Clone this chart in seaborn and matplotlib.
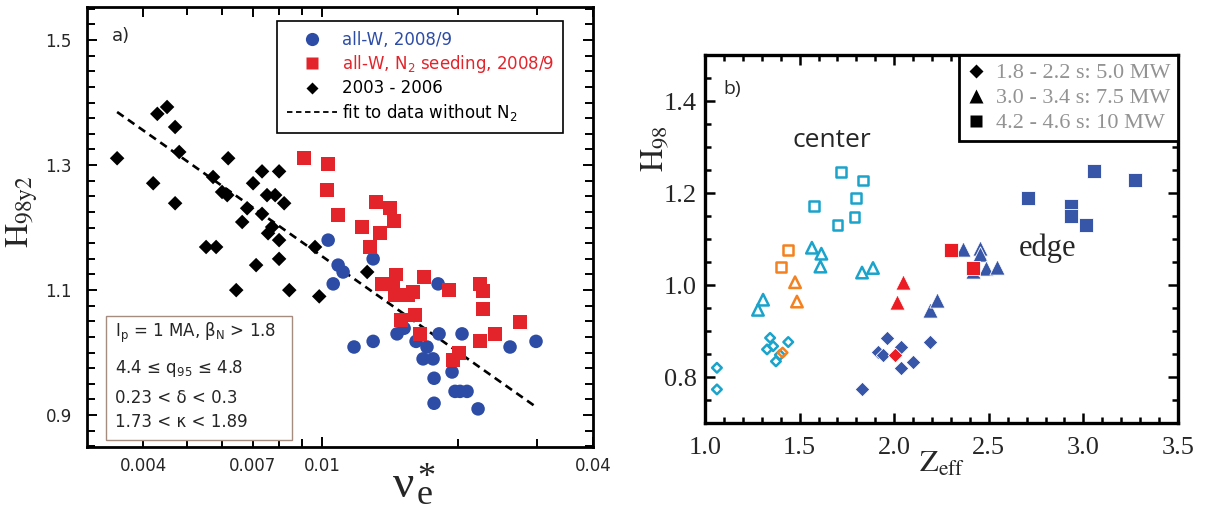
import matplotlib
matplotlib.use("Agg")
import matplotlib.pyplot as plt
from matplotlib.lines import Line2D
from matplotlib.patches import Rectangle
from matplotlib.ticker import (FixedLocator, FixedFormatter, MultipleLocator,
                               NullFormatter, FormatStrFormatter)
import seaborn as sns

# ---------------- panel a: H98y2 versus collisionality ----------------
old_nu = [0.0035, 0.0043, 0.00452, 0.00471, 0.00481, 0.00618, 0.00572, 0.00421,
          0.00735, 0.00802, 0.00702, 0.00754, 0.00786, 0.00471, 0.00599, 0.00615,
          0.00823, 0.00681, 0.00735, 0.00664, 0.00774, 0.00758, 0.00802, 0.00552,
          0.00581, 0.00802, 0.00713, 0.00644, 0.00845, 0.00964, 0.00985, 0.01259]
old_h = [1.311, 1.382, 1.393, 1.361, 1.321, 1.311, 1.281, 1.271,
         1.290, 1.290, 1.271, 1.252, 1.252, 1.239, 1.257, 1.252,
         1.239, 1.231, 1.222, 1.209, 1.201, 1.191, 1.180, 1.169,
         1.169, 1.150, 1.140, 1.100, 1.100, 1.169, 1.090, 1.129]

w_nu = [0.01031, 0.01298, 0.01085, 0.01113, 0.01058, 0.0181, 0.01177, 0.01298,
        0.01467, 0.01521, 0.01617, 0.0171, 0.01819, 0.02046, 0.01676, 0.01764,
        0.01773, 0.01944, 0.01974, 0.02025, 0.02099, 0.01773, 0.02221, 0.02616,
        0.02988]
w_h = [1.180, 1.150, 1.140, 1.129, 1.110, 1.110, 1.009, 1.018,
       1.030, 1.039, 1.018, 1.009, 1.030, 1.030, 0.990, 0.990,
       0.959, 0.969, 0.938, 0.938, 0.938, 0.919, 0.910, 1.009,
       1.018]

n2_nu = [0.00912, 0.01031, 0.01026, 0.01085, 0.01318, 0.01416, 0.01445, 0.01227,
         0.01345, 0.01278, 0.0146, 0.01359, 0.01437, 0.01684, 0.01592, 0.01452,
         0.01552, 0.01914, 0.02244, 0.02279, 0.02279, 0.02754, 0.01609, 0.01498,
         0.0165, 0.02422, 0.02244, 0.02015, 0.01954]
n2_h = [1.311, 1.302, 1.260, 1.220, 1.241, 1.231, 1.210, 1.201,
        1.191, 1.169, 1.125, 1.110, 1.110, 1.121, 1.097, 1.092,
        1.092, 1.100, 1.110, 1.098, 1.070, 1.049, 1.060, 1.052,
        1.030, 1.030, 1.018, 0.999, 0.988]

fit_nu = [0.0035, 0.0299]
fit_h = [1.385, 0.913]

nu_ticks = [0.004, 0.007, 0.01, 0.04]
nu_tick_labels = ["0.004", "0.007", "0.01", "0.04"]
nu_minor_ticks = [0.005, 0.006, 0.008, 0.009, 0.02, 0.03]
h_ticks_a = [0.9, 1.1, 1.3, 1.5]

legend_a = ["all-W, 2008/9",
            r"all-W, N$_\mathrm{2}$ seeding, 2008/9",
            "2003 - 2006",
            r"fit to data without N$_\mathrm{2}$"]
conditions = [r"I$_\mathrm{p}$ = 1 MA, β$_\mathrm{N}$ > 1.8",
              r"4.4 ≤ q$_\mathrm{95}$ ≤ 4.8",
              "0.23 < δ < 0.3",
              "1.73 < κ < 1.89"]

# ---------------- panel b: H98 versus Zeff ----------------
cen_sq_z = [1.72, 1.835, 1.80, 1.575, 1.79, 1.70]
cen_sq_h = [1.245, 1.227, 1.19, 1.172, 1.148, 1.13]
cen_sq_or_z = [1.44, 1.40]
cen_sq_or_h = [1.076, 1.04]
cen_tri_z = [1.565, 1.615, 1.61, 1.83, 1.888, 1.307, 1.28]
cen_tri_h = [1.081, 1.068, 1.04, 1.027, 1.037, 0.968, 0.946]
cen_tri_or_z = [1.476, 1.486]
cen_tri_or_h = [1.006, 0.964]
cen_dia_z = [1.063, 1.063, 1.344, 1.328, 1.36, 1.44, 1.396, 1.375]
cen_dia_h = [0.82, 0.773, 0.885, 0.86, 0.867, 0.876, 0.848, 0.834]
cen_dia_or_z = [1.41]
cen_dia_or_h = [0.853]

edge_dia_z = [1.83, 1.962, 1.914, 1.94, 2.036, 2.036, 2.10, 2.189]
edge_dia_h = [0.773, 0.885, 0.855, 0.847, 0.866, 0.82, 0.833, 0.876]
edge_dia_red_z = [2.005]
edge_dia_red_h = [0.848]
edge_tri_z = [2.19, 2.225, 2.364, 2.453, 2.453, 2.416, 2.485, 2.543]
edge_tri_h = [0.946, 0.968, 1.078, 1.08, 1.067, 1.03, 1.037, 1.039]
edge_tri_red_z = [2.047, 2.015]
edge_tri_red_h = [1.006, 0.963]
edge_sq_z = [2.707, 3.056, 3.273, 2.934, 2.934, 3.014]
edge_sq_h = [1.19, 1.247, 1.229, 1.172, 1.15, 1.13]
edge_sq_red_z = [2.30, 2.416]
edge_sq_red_h = [1.076, 1.037]

legend_b = ["1.8 - 2.2 s: 5.0 MW", "3.0 - 3.4 s: 7.5 MW", "4.2 - 4.6 s: 10 MW"]

# ---------------- colours ----------------
BLUE_A = "#2c4ca6"
RED_A = "#e3242b"
CYAN = "#1aa3cb"
ORANGE = "#f4811f"
BLUE_B = "#3856a8"
RED_B = "#ec1c24"
GREY_TXT = "#939393"

sns.set_theme(style="ticks")
plt.rcParams["font.family"] = ["DejaVu Sans"]
plt.rcParams["axes.unicode_minus"] = False

W, H = 1210, 511
fig = plt.figure(figsize=(W / 100, H / 100), dpi=100)
axa = fig.add_axes([87 / W, 64 / H, 506 / W, 440 / H])
axb = fig.add_axes([705 / W, 88 / H, 473 / W, 368 / H])

# ===== panel a =====
axa.set_xscale("log")
sns.lineplot(x=fit_nu, y=fit_h, ax=axa, color="black", linewidth=1.9,
             linestyle=(0, (3.0, 2.0)), zorder=2)
sns.scatterplot(x=old_nu, y=old_h, ax=axa, marker="D", s=55, color="black",
                edgecolor="none", zorder=3)
sns.scatterplot(x=w_nu, y=w_h, ax=axa, marker="o", s=95, color=BLUE_A,
                edgecolor="none", zorder=3)
sns.scatterplot(x=n2_nu, y=n2_h, ax=axa, marker="s", s=100, color=RED_A,
                edgecolor="none", zorder=4)

axa.set_xlim(0.003, 0.04)
axa.set_ylim(0.849, 1.553)
axa.xaxis.set_major_locator(FixedLocator(nu_ticks))
axa.xaxis.set_major_formatter(FixedFormatter(nu_tick_labels))
axa.xaxis.set_minor_locator(FixedLocator(nu_minor_ticks))
axa.xaxis.set_minor_formatter(NullFormatter())
axa.yaxis.set_major_locator(FixedLocator(h_ticks_a))
axa.yaxis.set_major_formatter(FormatStrFormatter("%.1f"))
axa.yaxis.set_minor_locator(MultipleLocator(0.025))
axa.tick_params(which="both", direction="in", top=True, right=True,
                width=1.4, color="black")
axa.tick_params(which="major", length=7, labelsize=12)
axa.tick_params(which="minor", length=6)
axa.tick_params(axis="y", which="major", pad=11)
axa.tick_params(axis="x", which="major", pad=7)
for sp in axa.spines.values():
    sp.set_linewidth(2.0)
    sp.set_color("black")

axa.set_ylabel(r"$\mathrm{H}_{\mathrm{98y2}}$", fontsize=24, math_fontfamily="stix")
axa.yaxis.set_label_coords(-0.093, 0.535)
axa.set_xlabel("")

# x-axis symbol: nu, followed by a stacked superscript star and subscript e
serif = "Liberation Serif"
fig.text(393 / W, 1 - 497 / H, "ν", fontsize=34, fontfamily=serif,
         ha="left", va="baseline")
fig.text(417 / W, 1 - 504 / H, "*\ne", fontsize=26, fontfamily=serif,
         ha="left", va="baseline", linespacing=0.36)

axa.text(0.049, 0.934, "a)", transform=axa.transAxes, fontsize=13, va="center")

handles_a = [
    Line2D([], [], marker="o", ls="none", color=BLUE_A, ms=9.5, mec="none"),
    Line2D([], [], marker="s", ls="none", color=RED_A, ms=8.5, mec="none"),
    Line2D([], [], marker="D", ls="none", color="black", ms=6.2, mec="none"),
    Line2D([], [], color="black", lw=1.3, ls=(0, (3.0, 2.0))),
]
leg_a = axa.legend(handles_a, legend_a, loc="upper left",
                   bbox_to_anchor=(0.375, 0.968), borderaxespad=0,
                   frameon=True, fancybox=False, framealpha=1,
                   edgecolor="black", fontsize=12, handlelength=3.0,
                   handletextpad=0.3, labelspacing=0.25, borderpad=0.6,
                   labelcolor=[BLUE_A, RED_A, "black", "black"])
leg_a.get_frame().set_linewidth(1.2)
for t in leg_a.get_texts():
    t.set_math_fontfamily("dejavusans")

axa.add_patch(Rectangle((0.0375, 0.016), 0.3675, 0.282, transform=axa.transAxes,
                        facecolor="white", edgecolor="#a48c7e", linewidth=1.0,
                        zorder=5))
for line, yy in zip(conditions, [0.25, 0.168, 0.1, 0.045]):
    axa.text(0.055, yy, line, transform=axa.transAxes, fontsize=12,
             va="baseline", ha="left", zorder=6, math_fontfamily="dejavusans")

# ===== panel b =====
open_kw = dict(facecolor="none", linewidth=1.8, zorder=3)
sns.scatterplot(x=cen_sq_z, y=cen_sq_h, ax=axb, marker="s", s=50, edgecolor=CYAN, **open_kw)
sns.scatterplot(x=cen_tri_z, y=cen_tri_h, ax=axb, marker="^", s=68, edgecolor=CYAN, **open_kw)
sns.scatterplot(x=cen_dia_z, y=cen_dia_h, ax=axb, marker="D", s=24, edgecolor=CYAN, **open_kw)
sns.scatterplot(x=cen_sq_or_z, y=cen_sq_or_h, ax=axb, marker="s", s=50, edgecolor=ORANGE, **open_kw)
sns.scatterplot(x=cen_tri_or_z, y=cen_tri_or_h, ax=axb, marker="^", s=68, edgecolor=ORANGE, **open_kw)
sns.scatterplot(x=cen_dia_or_z, y=cen_dia_or_h, ax=axb, marker="D", s=24, edgecolor=ORANGE, **open_kw)

fill_kw = dict(edgecolor="white", linewidth=0.6, zorder=3)
sns.scatterplot(x=edge_dia_z, y=edge_dia_h, ax=axb, marker="D", s=55, color=BLUE_B, **fill_kw)
sns.scatterplot(x=edge_tri_z, y=edge_tri_h, ax=axb, marker="^", s=120, color=BLUE_B, **fill_kw)
sns.scatterplot(x=edge_sq_z, y=edge_sq_h, ax=axb, marker="s", s=105, color=BLUE_B, **fill_kw)
sns.scatterplot(x=edge_dia_red_z, y=edge_dia_red_h, ax=axb, marker="D", s=55, color=RED_B, **fill_kw)
sns.scatterplot(x=edge_tri_red_z, y=edge_tri_red_h, ax=axb, marker="^", s=120, color=RED_B, **fill_kw)
sns.scatterplot(x=edge_sq_red_z, y=edge_sq_red_h, ax=axb, marker="s", s=105, color=RED_B, **fill_kw)

axb.set_xlim(1.0, 3.5)
axb.set_ylim(0.7, 1.5)
axb.xaxis.set_major_locator(MultipleLocator(0.5))
axb.xaxis.set_minor_locator(MultipleLocator(0.1))
axb.xaxis.set_major_formatter(FormatStrFormatter("%.1f"))
axb.yaxis.set_major_locator(FixedLocator([0.8, 1.0, 1.2, 1.4]))
axb.yaxis.set_minor_locator(MultipleLocator(0.05))
axb.yaxis.set_major_formatter(FormatStrFormatter("%.1f"))
axb.tick_params(which="both", direction="in", top=True, right=True,
                width=1.8, color="black", labelfontfamily=serif)
axb.tick_params(which="major", length=7, labelsize=19)
axb.tick_params(which="minor", length=4.5)
axb.tick_params(axis="y", which="major", pad=6)
axb.tick_params(axis="x", which="major", pad=10)
for sp in axb.spines.values():
    sp.set_linewidth(2.4)
    sp.set_color("black")

axb.set_ylabel(r"$\mathrm{H}_{\mathrm{98}}$", fontsize=23, math_fontfamily="stix")
axb.yaxis.set_label_coords(-0.07, 0.745)
axb.set_xlabel(r"$\mathrm{Z}_{\mathrm{eff}}$", fontsize=22, math_fontfamily="stix")
axb.xaxis.set_label_coords(0.5, -0.07)

axb.text(0.038, 0.908, "b)", transform=axb.transAxes, fontsize=14,
         fontfamily="Open Sans", va="center")
axb.text(0.268, 0.769, "center", transform=axb.transAxes, fontsize=19,
         fontfamily="Open Sans", va="center", ha="center")
axb.text(0.725, 0.476, "edge", transform=axb.transAxes, fontsize=22,
         fontfamily=serif, va="center", ha="center")

handles_b = [
    Line2D([], [], marker="D", ls="none", color="black", ms=7, mec="none"),
    Line2D([], [], marker="^", ls="none", color="black", ms=10, mec="none"),
    Line2D([], [], marker="s", ls="none", color="black", ms=8.5, mec="none"),
]
leg_b = axb.legend(handles_b, legend_b, loc="upper right", bbox_to_anchor=(1, 1),
                   borderaxespad=0, frameon=True, fancybox=False, framealpha=1,
                   edgecolor="black", handlelength=0.8, handletextpad=0.5,
                   labelspacing=0.2, borderpad=0.35, labelcolor=GREY_TXT,
                   prop={"family": serif, "size": 16})
leg_b.get_frame().set_linewidth(2.0)

fig.savefig("out.png", dpi=100)
